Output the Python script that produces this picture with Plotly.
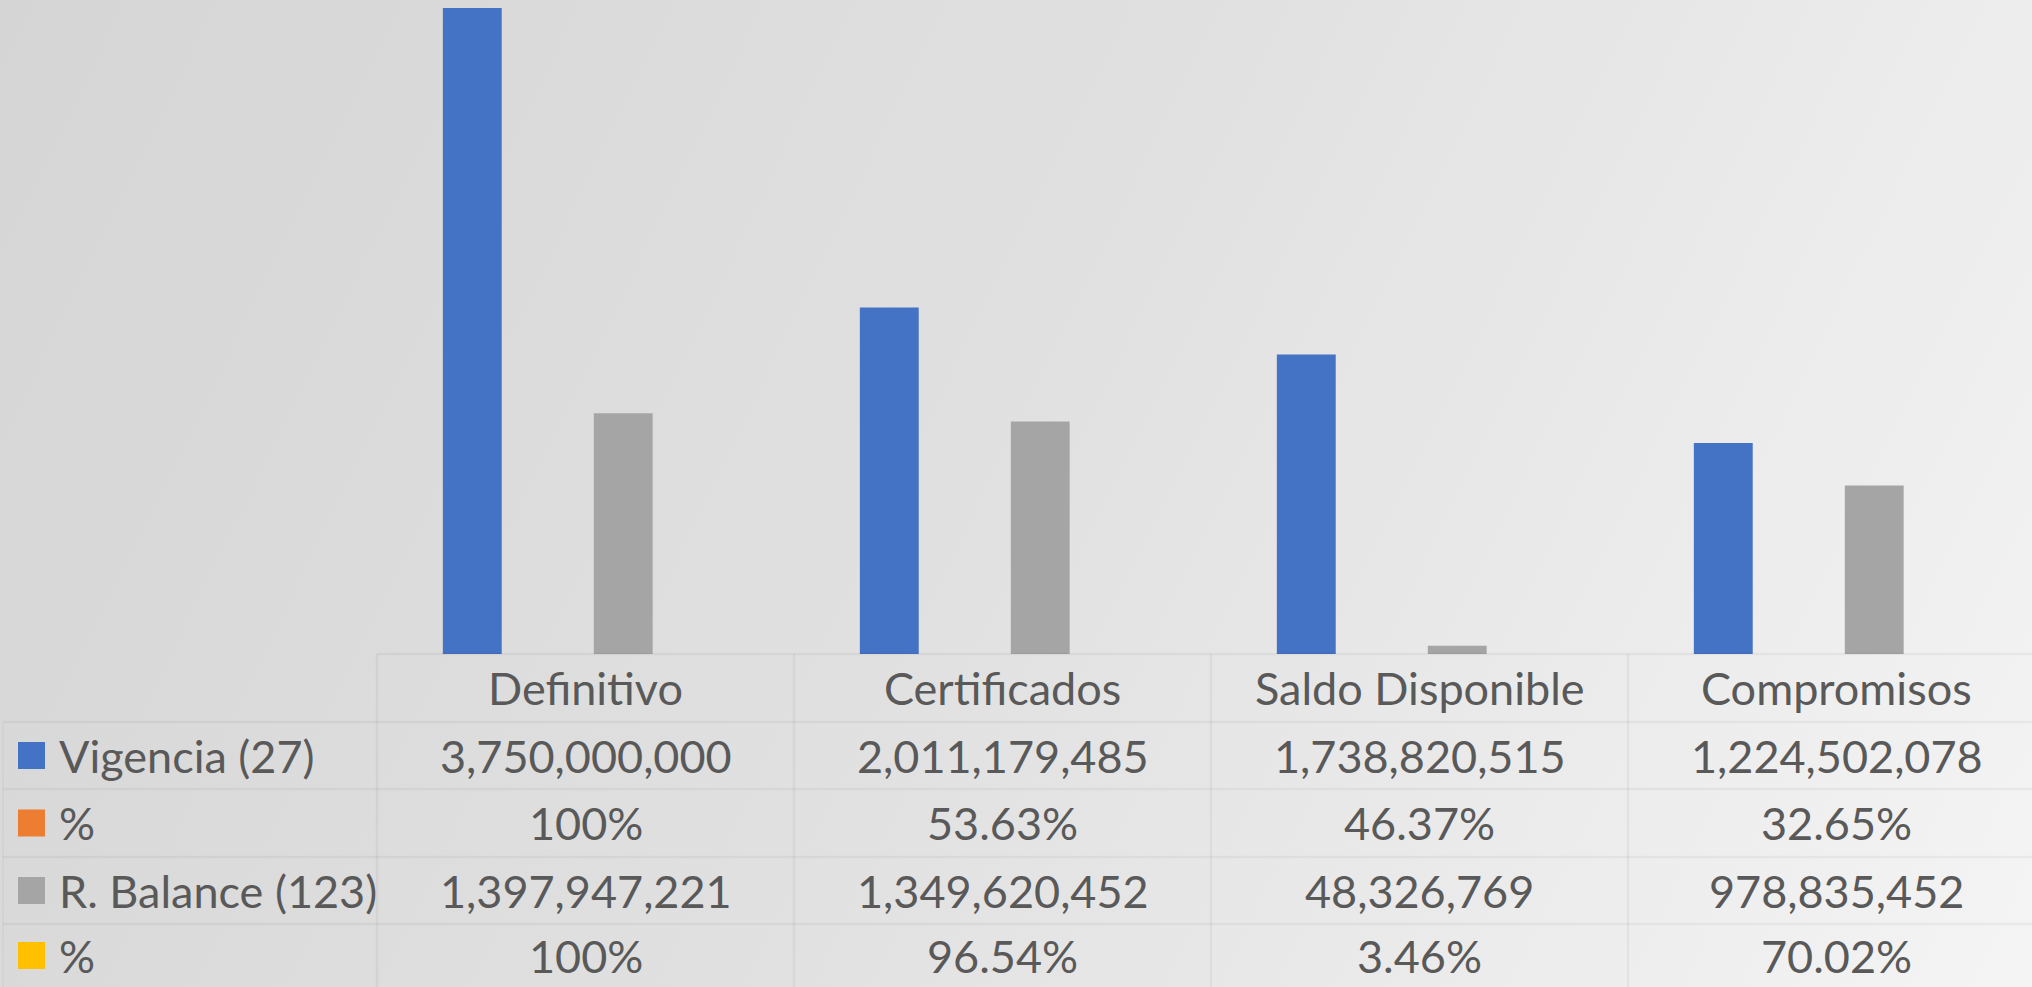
import base64
import plotly.graph_objects as go

categories = ["Definitivo", "Certificados", "Saldo Disponible", "Compromisos"]
series_names = ["Vigencia (27)", "%", "R. Balance (123)", "%"]
series_colors = ["#4472C4", "#ED7D31", "#A5A5A5", "#FFC000"]
vigencia = [3750000000, 2011179485, 1738820515, 1224502078]
pct_vigencia = [1.0, 0.5363, 0.4637, 0.3265]
balance = [1397947221, 1349620452, 48326769, 978835452]
pct_balance = [1.0, 0.9654, 0.0346, 0.7002]
series_values = [vigencia, pct_vigencia, balance, pct_balance]
series_is_pct = [False, True, False, True]

W, H = 2032, 987
FONT = "Lato"
TXT = "#595959"
LINE = "rgba(0,0,0,0.045)"
FS = 45

# plot area geometry (pixels)
px_left = 377
cat_w = 417.0
base_px = 654
top_val_px = 8

def fmt(v, pct):
    if pct:
        return "100%" if abs(v - 1) < 1e-9 else f"{v*100:.2f}%"
    return f"{v:,.0f}"

fig = go.Figure()
for name, vals, col in zip(series_names, series_values, series_colors):
    fig.add_trace(go.Bar(x=categories, y=vals, name=name, marker=dict(color=col, line=dict(width=0))))

ymax_data = max(vigencia)
ytop = ymax_data * base_px / (base_px - top_val_px)
xr_hi = -0.5 + (W - px_left) / cat_w

fig.update_layout(
    width=W, height=H,
    margin=dict(l=0, r=0, t=0, b=0),
    paper_bgcolor="rgba(0,0,0,0)", plot_bgcolor="rgba(0,0,0,0)",
    barmode="group", bargap=0.276, bargroupgap=0.22,
    showlegend=False,
    font=dict(family=FONT, color=TXT, size=FS),
    xaxis=dict(domain=[px_left / W, 1], range=[-0.5, xr_hi], showticklabels=False,
               showgrid=False, zeroline=False, showline=False, fixedrange=True),
    yaxis=dict(domain=[(H - base_px) / H, 1], range=[0, ytop], showticklabels=False,
               showgrid=False, zeroline=False, showline=False, fixedrange=True),
)

# gradient background
svg = (f"<svg xmlns='http://www.w3.org/2000/svg' width='{W}' height='{H}' viewBox='0 0 {W} {H}' preserveAspectRatio='none'>"
       f"<defs><linearGradient id='g' gradientUnits='userSpaceOnUse' x1='0' y1='0' x2='{W}' y2='{H}'>"
       "<stop offset='0' stop-color='#d5d5d5'/><stop offset='0.5' stop-color='#e1e1e1'/>"
       "<stop offset='1' stop-color='#f4f4f4'/></linearGradient></defs>"
       f"<rect x='0' y='0' width='{W}' height='{H}' fill='url(#g)'/></svg>")
src = "data:image/svg+xml;base64," + base64.b64encode(svg.encode()).decode()
fig.add_layout_image(dict(source=src, xref="paper", yref="paper", x=0, y=1, sizex=1, sizey=1,
                          xanchor="left", yanchor="top", sizing="stretch", layer="below"))

def py(p):
    return 1 - p / H

def pxx(p):
    return p / W

# table lines
row_lines = [722, 789, 857, 924]
shapes = []
shapes.append(dict(type="line", xref="paper", yref="paper", x0=pxx(px_left), x1=1,
                   y0=py(base_px), y1=py(base_px), line=dict(color=LINE, width=2.5)))
for yl in row_lines:
    shapes.append(dict(type="line", xref="paper", yref="paper", x0=pxx(3), x1=1,
                       y0=py(yl), y1=py(yl), line=dict(color=LINE, width=2.5)))
for i in range(len(categories)):
    xv = px_left + i * cat_w
    shapes.append(dict(type="line", xref="paper", yref="paper", x0=pxx(xv), x1=pxx(xv),
                       y0=py(base_px), y1=0, line=dict(color=LINE, width=2.5)))
shapes.append(dict(type="line", xref="paper", yref="paper", x0=pxx(3), x1=pxx(3),
                   y0=py(row_lines[0]), y1=0, line=dict(color="rgba(0,0,0,0.025)", width=2)))

# legend keys
row_centers = [(base_px + row_lines[0]) / 2] + [
    (a + b) / 2 for a, b in zip(row_lines, row_lines[1:] + [H])]
for col, yc in zip(series_colors, row_centers[1:]):
    shapes.append(dict(type="rect", xref="paper", yref="paper", x0=pxx(18), x1=pxx(45),
                       y0=py(yc - 13.5), y1=py(yc + 13.5), fillcolor=col, line=dict(width=0)))
fig.update_layout(shapes=shapes)

ann = []
for c in categories:
    ann.append(dict(x=c, xref="x", y=py(row_centers[0]), yref="paper", text=c, showarrow=False,
                    xanchor="center", yanchor="middle", font=dict(family=FONT, size=FS, color=TXT)))
for name, vals, pct, yc in zip(series_names, series_values, series_is_pct, row_centers[1:]):
    ann.append(dict(x=pxx(57), xref="paper", y=py(yc), yref="paper", text=name, showarrow=False,
                    xanchor="left", yanchor="middle", font=dict(family=FONT, size=FS, color=TXT)))
    for c, v in zip(categories, vals):
        ann.append(dict(x=c, xref="x", y=py(yc), yref="paper", text=fmt(v, pct), showarrow=False,
                        xanchor="center", yanchor="middle", font=dict(family=FONT, size=FS, color=TXT)))
fig.update_layout(annotations=ann)

fig.write_html("out.html", config={"displayModeBar": False},
               post_script="document.body.style.margin='0';document.body.style.overflow='hidden';")
